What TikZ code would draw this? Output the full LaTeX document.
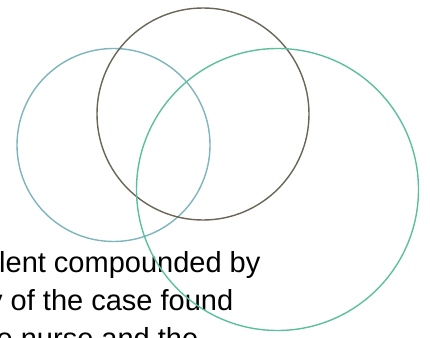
\documentclass[tikz,border=0pt]{standalone}
\usepackage{fontspec}
\setmainfont{Liberation Sans}
\usepackage{tikz}
\usetikzlibrary{positioning}

\definecolor{ringblue}{RGB}{127,181,189}
\definecolor{ringgray}{RGB}{107,101,88}
\definecolor{ringgreen}{RGB}{93,191,160}

\tikzset{
  ring/.style={line width=1.4pt},
  textline/.style={anchor=base west,inner sep=0pt,font=\fontsize{29}{35}\selectfont}
}

\begin{document}
\begin{tikzpicture}[x=1pt,y=-1pt]
  \useasboundingbox (0,0) rectangle (430,337);
  \clip (0,0) rectangle (430,337);
  \fill[white] (0,0) rectangle (430,337);
  % three rings
  \draw[ring,ringblue] (113.5,145) circle[radius=96.5pt];
  \draw[ring,ringgray] (203,114) circle[radius=106pt];
  % text below the rings
  \node[textline] (line1) at (-1,272) {lent compounded by};
  \node[textline] (line2) at (-12,310.5) {y of the case found};
  \node[textline] (line3) at (-3.5,348) {e nurse and the};
  \draw[ring,ringgreen] (277.5,189.5) circle[radius=141pt];
\end{tikzpicture}
\end{document}
